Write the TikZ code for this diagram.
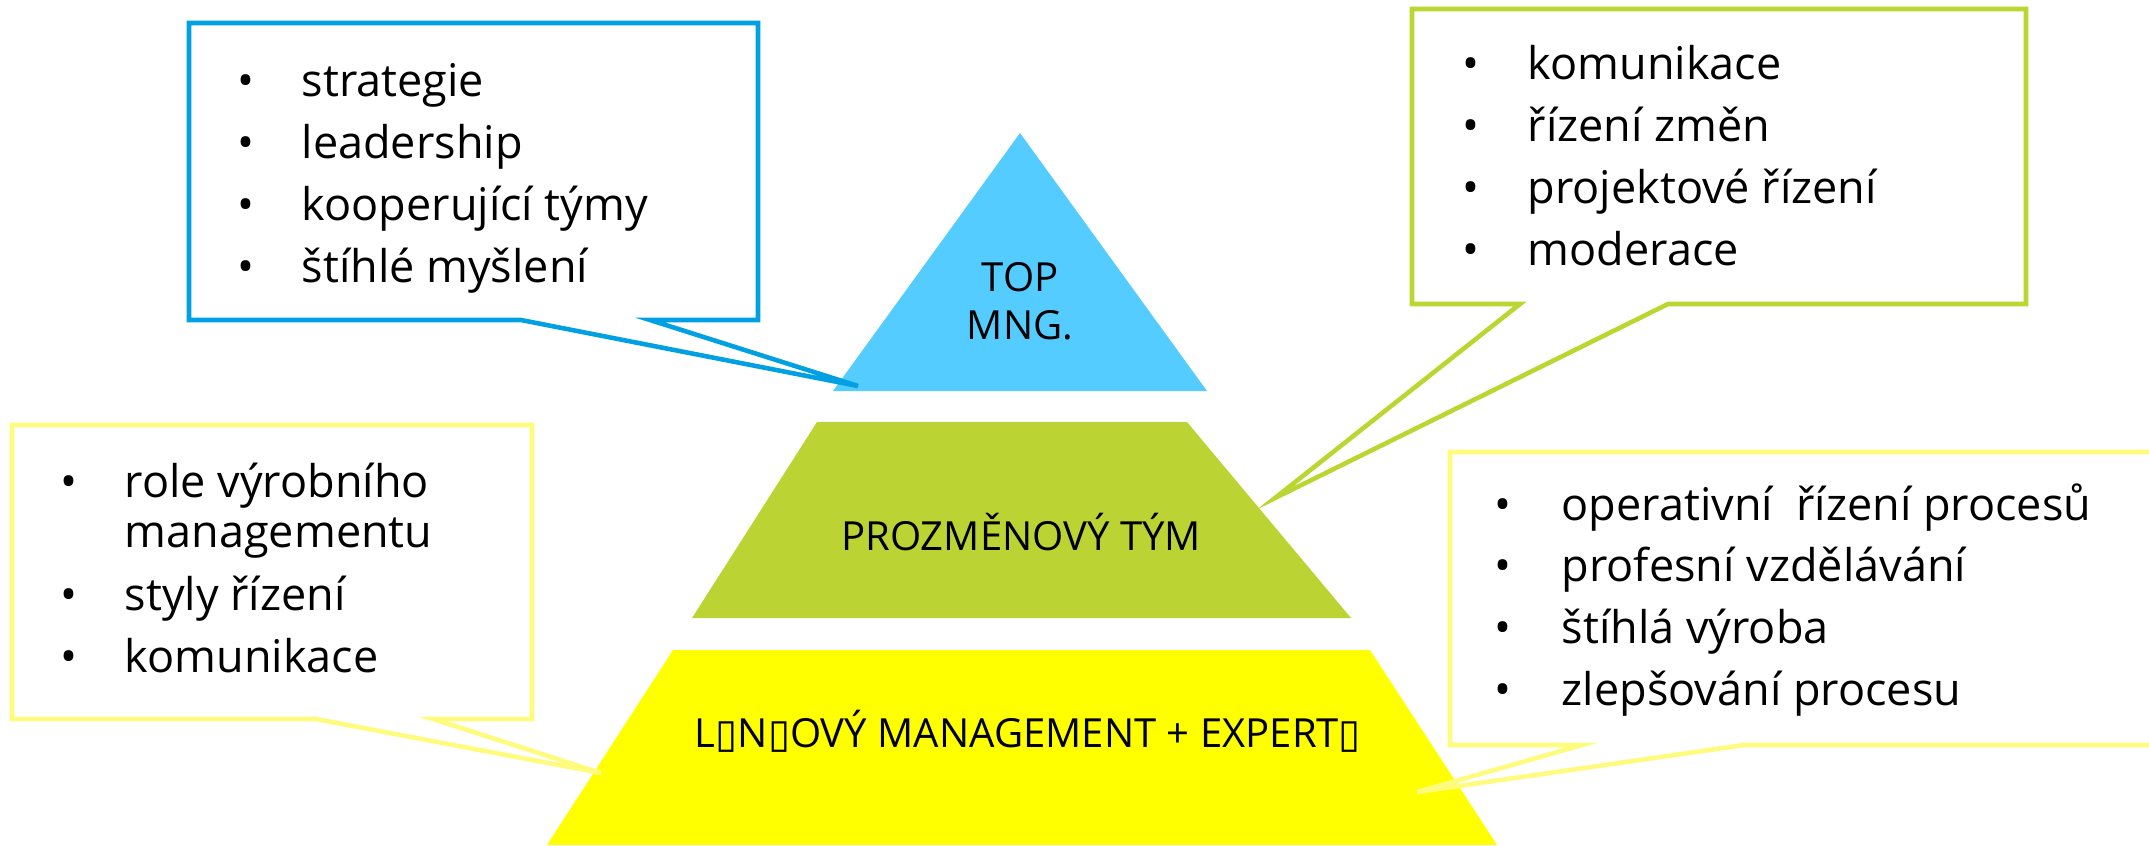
\documentclass[tikz,border=0pt]{standalone}
\usepackage{fontspec}
\setmainfont{Open Sans}
\newfontfamily\boxfont{DejaVu Sans}

\definecolor{topblue}{HTML}{55CCFF}
\definecolor{midgreen}{HTML}{BBD433}
\definecolor{lowyellow}{HTML}{FFFF00}
\definecolor{lineblue}{HTML}{00A0E2}
\definecolor{linegreen}{HTML}{BCD631}
\definecolor{lineyellow}{HTML}{FFFB7D}

\newcommand{\bulletfont}{\fontsize{12.8pt}{17.6pt}\selectfont}
\newcommand{\levelfont}{\fontsize{11.4pt}{13.6pt}\selectfont}
\newcommand{\nog}{{\boxfont ▯}}

\begin{document}
\begin{tikzpicture}[x=0.01cm, y=-0.01cm,
    dot/.style={anchor=base, inner sep=0pt, font=\bulletfont},
    txt/.style={anchor=base west, inner sep=0pt, font=\bulletfont},
    lvl/.style={inner sep=0pt, font=\levelfont},
    callout/.style={line width=1.3pt}]
  \clip (0,0) rectangle (2149,845);

  % Pyramid levels
  \fill[topblue] (1020,133) -- (1207,391) -- (833,391) -- cycle;
  \fill[midgreen] (817,422) -- (1187,422) -- (1351,618) -- (692,618) -- cycle;
  \fill[lowyellow] (673,650) -- (1370,650) -- (1497,845) -- (547,845) -- cycle;

  \node[lvl, align=center] (top) at (1020,301) {TOP\\MNG.};
  \node[lvl, anchor=base] (mid) at (1021,550) {PROZMĚNOVÝ TÝM};
  \node[lvl, anchor=base] (low) at (1028,747) {L\nog N\nog OVÝ MANAGEMENT + EXPERT\nog};

  % Callout tips
  \coordinate (tipblue) at (858,386);
  \coordinate (tipgreen) at (1275,498);
  \coordinate (tipleft) at (601,773);
  \coordinate (tipright) at (1417,792);

  % Callout outlines
  \draw[callout, lineblue] (650,320) -- (758,320) -- (758,23) -- (189,23) -- (189,320) -- (521,320) -- (tipblue) -- cycle;
  \draw[callout, linegreen] (1668,304) -- (2026,304) -- (2026,9) -- (1412,9) -- (1412,304) -- (1520,304) -- (tipgreen) -- cycle;
  \draw[callout, lineyellow] (433,719) -- (532,719) -- (532,425) -- (12,425) -- (12,719) -- (316,719) -- (tipleft) -- cycle;
  \draw[callout, lineyellow] (1744,745) -- (2180,745) -- (2180,452) -- (1450,452) -- (1450,745) -- (1582,745) -- (tipright) -- cycle;

  % Top management
  \foreach \t [count=\i from 0] in {strategie, leadership, kooperující týmy, štíhlé myšlení}{
    \node[dot] (bd\i) at (246, 96+62*\i) {•};
    \node[txt] (bt\i) at (301, 96+62*\i) {\t};
  }

  % Change team
  \foreach \t [count=\i from 0] in {komunikace, řízení změn, projektové řízení, moderace}{
    \node[dot] (gd\i) at (1471, 79+62*\i) {•};
    \node[txt] (gt\i) at (1527, 79+62*\i) {\t};
  }

  % Line management
  \node[dot] (ld0) at (69,497) {•};
  \node[txt] (lt0) at (124,497) {role výrobního};
  \node[txt] (lt0b) at (124,547) {managementu};
  \node[dot] (ld1) at (69,610) {•};
  \node[txt] (lt1) at (124,610) {styly řízení};
  \node[dot] (ld2) at (69,672) {•};
  \node[txt] (lt2) at (124,672) {komunikace};

  % Experts
  \foreach \t [count=\i from 0] in {operativní\ \ řízení procesů, profesní vzdělávání, štíhlá výroba, zlepšování procesu}{
    \node[dot] (rd\i) at (1503, 520+61.7*\i) {•};
    \node[txt] (rt\i) at (1561, 520+61.7*\i) {\t};
  }
\end{tikzpicture}
\end{document}
